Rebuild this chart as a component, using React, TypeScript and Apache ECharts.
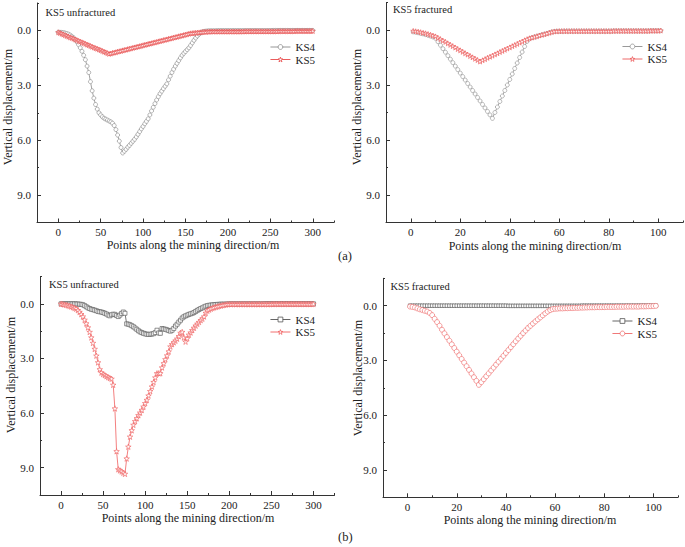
import React, { useEffect, useRef } from "react";
import * as echarts from "echarts";

// ---------- data ----------
// x positions: left panels every 2 m from 0 to 300, right panels every 1 m from 1 to 101
const xLeftStart = 0, xLeftStep = 2, xLeftCount = 151;
const xRightStart = 1, xRightStep = 1, xRightCount = 101;

const xTicksLeft = [0, 50, 100, 150, 200, 250, 300];
const xTicksRight = [0, 20, 40, 60, 80, 100];
const yTicks = [0, 3, 6, 9];

const panelTitles = ["KS5 unfractured", "KS5 fractured", "KS5 unfractured", "KS5 fractured"];
const seriesNames = ["KS4", "KS5"];
const subLabels = ["(a)", "(b)"];
const xTitle = "Points along the mining direction/m";
const yTitle = "Vertical displacement/m";

// (a) KS5 unfractured
const aUnfracKS4 = [
  0.10,0.10,0.11,0.12,0.14,0.17,0.20,0.25,0.32,0.40,0.50,0.62,0.78,0.95,1.14,1.36,
  1.60,1.95,2.30,2.80,3.30,3.70,4.05,4.30,4.50,4.62,4.72,4.80,4.85,4.90,4.95,5.00,5.07,5.20,5.42,5.72,6.05,6.40,6.70,
  6.60,6.50,6.38,6.28,6.17,6.06,5.95,5.82,5.68,5.53,5.38,5.25,5.10,4.97,4.83,4.62,4.40,4.20,4.00,3.80,3.62,3.46,
  3.32,3.18,3.05,2.92,2.70,2.50,2.30,2.12,1.95,1.80,1.65,1.50,1.36,1.25,1.15,1.05,0.95,0.82,0.68,0.54,0.41,0.30,
  0.20,0.13,0.08,0.05,0.04,0.03,0.02,0.02,
  0.02,0.02,0.02,0.01,0.01,0.01,0.01,0.01,0.01,0.01,
  0.01,0.01,0.01,0.01,0.01,0.01,0.01,0.01,0.01,0.01,0.01,0.01,0.01,0.01,0.01,0.01,0.01,0.01,0.01,0.01,0.01,0.01,0.01,0.01,0.01,
  0.00,0.00,0.00,0.00,0.00,0.00,0.00,0.00,0.00,0.00,0.00,0.00,0.00,0.00,0.00,0.00,0.00,0.00,0.00,0.00,0.00,0.00,0.00,0.00,0.00,
];
const aUnfracKS5 = [
  0.10,0.14,0.18,0.22,0.26,0.30,0.34,0.38,0.41,0.45,0.49,0.53,0.57,0.61,0.65,0.69,0.73,0.77,0.81,0.85,0.89,0.93,0.97,1.00,1.04,1.08,1.12,1.16,1.20,1.24,1.28,
  1.26,1.23,1.21,1.19,1.16,1.14,1.12,1.09,1.07,1.05,1.02,1.00,0.98,0.95,0.93,0.91,0.88,0.86,0.84,0.81,0.79,0.77,0.74,0.72,0.70,
  0.67,0.65,0.63,0.60,0.58,0.56,0.53,0.51,0.49,0.46,0.44,0.42,0.39,0.37,0.35,0.32,0.30,0.28,0.25,0.23,0.21,0.18,0.16,0.15,
  0.14,0.13,0.12,0.11,0.10,0.09,0.08,0.08,0.07,0.07,
  0.06,0.06,0.06,0.06,0.06,0.06,0.06,0.06,0.06,0.06,0.06,0.06,0.06,0.06,0.06,0.06,0.06,0.06,0.06,0.06,
  0.05,0.05,0.05,0.05,0.05,0.05,0.05,0.05,0.05,0.05,0.05,0.05,0.05,0.05,0.05,0.05,0.05,0.05,0.05,0.05,
  0.04,0.04,0.04,0.04,0.04,0.04,0.04,0.04,0.04,0.04,
  0.03,0.03,0.03,0.03,0.03,0.03,0.03,0.03,0.03,0.03,0.03,
];
// (a) KS5 fractured
const aFracKS4 = [
  0.10,0.12,0.15,0.18,0.21,0.25,0.29,0.33,0.38,0.45,
  0.64,0.83,1.02,1.21,1.40,1.59,1.78,1.97,2.16,2.35,2.54,2.73,2.92,3.11,3.30,3.49,3.68,3.87,4.06,4.25,4.44,4.63,4.82,
  4.50,4.20,3.90,3.60,3.30,3.00,2.70,2.40,2.10,1.80,1.50,1.20,0.90,0.62,0.48,0.42,0.38,0.34,0.30,0.26,0.23,0.19,0.15,0.11,0.08,
  0.07,0.07,0.07,
  0.06,0.06,0.06,0.06,0.06,0.06,0.06,0.06,0.06,0.06,0.06,0.06,0.06,0.06,0.06,0.06,0.06,0.06,0.06,0.06,
  0.05,0.05,0.05,0.05,0.05,0.05,0.05,0.05,0.05,0.05,0.05,0.05,0.05,0.05,0.05,
  0.04,0.04,0.04,0.04,0.04,
];
const aFracKS5 = [
  0.05,0.07,0.09,0.12,0.15,0.18,0.22,0.26,0.30,0.35,
  0.43,0.50,0.58,0.65,0.73,0.81,0.88,0.96,1.04,1.11,1.19,1.27,1.34,1.42,1.49,1.57,1.64,1.72,
  1.65,1.59,1.52,1.46,1.40,1.33,1.27,1.20,1.14,1.08,1.01,0.95,0.88,0.82,0.76,0.69,0.63,0.56,0.50,0.45,0.41,0.38,0.34,0.30,0.26,0.23,0.19,0.15,0.11,0.08,
  0.07,
  0.06,0.06,0.06,0.06,0.06,0.06,0.06,0.06,0.06,0.06,0.06,0.06,0.06,0.06,0.06,0.06,0.06,0.06,0.06,0.06,0.06,0.06,
  0.05,0.05,0.05,0.05,0.05,0.05,0.05,0.05,0.05,0.05,0.05,0.05,0.05,0.05,0.05,
  0.04,0.04,0.04,0.04,0.03,
];
// (b) KS5 unfractured
const bUnfracKS4 = [
  0.00,0.00,0.00,0.00,0.00,0.00,0.00,0.00,0.00,
  0.01,0.01,0.02,0.03,0.05,0.10,0.16,0.22,0.26,0.30,0.32,0.35,0.38,0.42,0.44,0.45,0.48,0.52,0.56,0.62,0.66,0.60,0.57,0.58,0.64,0.70,0.62,0.53,0.45,0.52,
  1.10,1.12,1.15,1.20,1.26,1.33,1.40,1.48,1.54,1.58,1.62,1.65,1.67,1.68,1.67,1.66,1.64,1.58,1.45,1.60,1.62,1.36,1.38,1.40,1.43,1.47,1.50,
  1.45,1.35,1.22,1.12,1.00,0.90,0.78,0.71,0.66,0.62,0.58,0.55,0.52,0.48,0.42,0.36,0.31,0.26,0.22,0.17,0.13,0.10,0.08,0.07,0.06,
  0.05,0.04,0.03,0.03,0.02,0.02,0.02,0.02,0.01,0.01,
  0.01,0.01,0.01,0.01,0.01,0.01,0.01,0.01,0.01,0.01,0.01,0.01,0.01,0.01,0.01,0.01,0.01,0.01,0.01,0.01,
  0.00,0.00,0.00,0.00,0.00,0.00,0.00,0.00,0.00,0.00,0.00,0.00,0.00,0.00,0.00,0.00,0.00,0.00,0.00,0.00,0.00,0.00,0.00,0.00,0.00,0.00,0.00,0.00,0.00,0.00,
];
const bUnfracKS5 = [
  0.00,0.02,0.04,0.06,0.09,0.12,0.15,0.19,0.23,0.27,
  0.35,0.45,0.57,0.70,0.88,1.08,1.30,1.55,1.85,2.15,2.48,2.85,3.22,3.60,3.78,3.86,3.92,3.98,4.03,4.08,4.12,
  4.45,5.75,8.10,9.09,9.15,9.21,9.28,9.34,8.50,7.85,7.30,6.95,6.65,6.45,6.29,6.12,5.98,5.83,5.65,5.46,5.28,5.04,4.80,4.55,4.30,4.05,
  3.82,3.82,3.82,3.50,3.27,3.05,2.84,2.62,2.35,2.22,2.12,2.03,1.92,1.78,1.60,1.55,1.85,2.08,1.90,1.70,1.58,1.45,1.32,1.20,
  1.10,1.00,0.90,0.82,0.70,0.50,0.38,0.32,0.27,0.23,0.20,0.17,0.15,0.12,0.10,0.08,0.06,0.04,0.03,0.02,
  0.02,0.02,0.02,0.02,0.02,0.02,0.02,0.02,0.02,0.02,0.02,0.02,0.02,0.02,0.02,0.02,0.02,0.02,0.02,0.02,0.02,0.02,0.02,0.02,0.02,
  0.01,0.01,0.01,0.01,0.01,0.01,0.01,0.01,0.01,0.01,0.01,0.01,0.01,0.01,0.01,0.01,0.01,0.01,0.01,0.01,0.01,0.01,0.01,0.01,0.01,
];
// (b) KS5 fractured
const bFracKS4 = [
  0.00,0.00,0.00,0.00,0.00,0.00,0.00,0.00,0.00,0.00,0.00,0.00,0.00,0.00,0.00,0.00,0.00,0.00,0.00,0.00,
  0.00,0.00,0.00,0.00,0.00,0.00,0.00,0.00,0.00,0.00,0.00,0.00,0.00,0.00,0.00,0.00,0.00,0.00,0.00,0.00,
  0.01,0.01,0.01,0.01,0.01,0.01,0.01,0.01,0.01,0.01,0.01,0.01,0.01,0.01,0.01,0.01,0.01,0.01,0.01,0.01,
  0.01,0.01,0.01,0.01,0.01,0.01,0.01,0.01,0.01,0.01,0.00,0.00,0.00,0.00,0.00,0.00,0.00,0.00,0.00,0.00,
  0.00,0.00,0.00,0.00,0.00,0.00,0.00,0.00,0.00,0.00,0.00,0.00,0.00,0.00,0.00,0.00,0.00,0.00,0.00,0.00,0.00,
];
const bFracKS5 = [
  0.05,0.07,0.10,0.15,0.20,0.24,0.28,0.32,0.40,0.52,
  0.72,0.90,1.10,1.32,1.52,1.72,1.92,2.12,2.32,2.52,2.72,2.92,3.12,3.32,3.52,3.72,3.92,4.12,4.34,
  4.19,4.03,3.87,3.71,3.55,3.39,3.23,3.07,2.91,2.75,2.59,2.43,2.27,2.11,1.95,1.80,1.65,1.50,1.36,1.22,1.10,0.98,0.86,0.75,0.64,0.53,0.42,0.32,0.24,0.19,0.17,
  0.16,0.15,0.15,0.14,0.14,0.13,0.13,0.12,0.12,0.11,0.11,0.10,0.10,0.09,
  0.09,0.09,0.08,0.08,0.08,0.08,0.07,0.07,0.07,0.07,0.06,0.06,0.06,0.06,0.05,0.05,0.05,0.05,0.05,0.05,0.04,0.04,0.04,0.03,0.03,0.02,0.01,
];

// ---------- rendering ----------
const FONT = "'Liberation Serif', 'Times New Roman', serif";
const STAR = "path://M5,0L6.2,3.6L10,3.6L6.9,5.9L8.1,9.5L5,7.3L1.9,9.5L3.1,5.9L0,3.6L3.8,3.6Z";

function xs(start: number, step: number, count: number) {
  return Array.from({ length: count }, (_, i) => start + i * step);
}
function pairs(x: number[], y: number[]) {
  return y.map((v, i) => [x[i], v]);
}

export default function App() {
  const ref = useRef<HTMLDivElement>(null);
  useEffect(() => {
    if (!ref.current) return;
    const chart = echarts.init(ref.current, undefined, { renderer: "svg" });
    const xL = xs(xLeftStart, xLeftStep, xLeftCount);
    const xR = xs(xRightStart, xRightStep, xRightCount);

    const grids = [
      { left: 37, top: 3, width: 297, height: 219.5 },
      { left: 386, top: 2.5, width: 297, height: 220 },
      { left: 40, top: 276.5, width: 294.5, height: 218.5 },
      { left: 383, top: 278.3, width: 295, height: 219 },
    ];
    const xCfg = [
      { min: -25, max: 325, minor: 25, ticks: xTicksLeft },
      { min: -10, max: 110, minor: 10, ticks: xTicksRight },
      { min: -25, max: 325, minor: 25, ticks: xTicksLeft },
      { min: -10, max: 110, minor: 10, ticks: xTicksRight },
    ];
    const axisColor = "#333";
    const xAxis: any[] = [];
    const yAxis: any[] = [];
    grids.forEach((_, i) => {
      const c = xCfg[i];
      xAxis.push({
        gridIndex: i, type: "value", position: "bottom", min: c.min, max: c.max,
        axisLine: { show: true, onZero: false, lineStyle: { color: axisColor, width: 1 } },
        axisTick: { show: true, inside: true, length: 4, customValues: c.ticks, lineStyle: { color: axisColor } },
        axisLabel: { customValues: c.ticks, fontSize: 11, color: "#222", fontFamily: FONT, margin: 4 },
        splitLine: { show: false },
      });
      xAxis.push({
        gridIndex: i, type: "value", position: "bottom", min: c.min, max: c.max, interval: c.minor,
        axisLine: { show: false, onZero: false },
        axisTick: { show: true, inside: true, length: 2, lineStyle: { color: axisColor } },
        axisLabel: { show: false }, splitLine: { show: false },
      });
      yAxis.push({
        gridIndex: i, type: "value", position: "left", inverse: true, min: -1.5, max: 10.5,
        axisLine: { show: true, onZero: false, lineStyle: { color: axisColor, width: 1 } },
        axisTick: { show: true, inside: true, length: 4, customValues: yTicks, lineStyle: { color: axisColor } },
        axisLabel: {
          customValues: yTicks, fontSize: 11, color: "#222", fontFamily: FONT, margin: 6,
          formatter: (v: number) => Number(v).toFixed(1),
        },
        splitLine: { show: false },
      });
      yAxis.push({
        gridIndex: i, type: "value", position: "left", inverse: true, min: -1.5, max: 10.5, interval: 1.5,
        axisLine: { show: false, onZero: false },
        axisTick: { show: true, inside: true, length: 2, lineStyle: { color: axisColor } },
        axisLabel: { show: false }, splitLine: { show: false },
      });
    });

    const panelData = [
      [pairs(xL, aUnfracKS4), pairs(xL, aUnfracKS5)],
      [pairs(xR, aFracKS4), pairs(xR, aFracKS5)],
      [pairs(xL, bUnfracKS4), pairs(xL, bUnfracKS5)],
      [pairs(xR, bFracKS4), pairs(xR, bFracKS5)],
    ];
    const styles = [
      [
        { symbol: "circle", size: 4, color: "#8a8a8a", legendSize: 5 },
        { symbol: STAR, size: 5, color: "#e84a4a", legendSize: 5.5 },
      ],
      [
        { symbol: "circle", size: 4, color: "#8f8f8f", legendSize: 5 },
        { symbol: STAR, size: 5, color: "#ec5a5a", legendSize: 5.5 },
      ],
      [
        { symbol: "rect", size: 4, color: "#555555", legendSize: 5 },
        { symbol: STAR, size: 5.5, color: "#f06060", legendSize: 5.5 },
      ],
      [
        { symbol: "rect", size: 3.5, color: "#555555", legendSize: 5 },
        { symbol: "circle", size: 5, color: "#ee6a6a", legendSize: 5.5 },
      ],
    ];
    const series: any[] = [];
    const legends: any[] = [];
    const legendPos = [
      { left: 270, top: 41.5 },
      { left: 622, top: 41 },
      { left: 270, top: 314 },
      { left: 612, top: 315.5 },
    ];
    panelData.forEach((pd, i) => {
      const items: any[] = [];
      pd.forEach((d, k) => {
        const st = styles[i][k];
        const name = seriesNames[k] + "_" + i;
        items.push({
          name,
          itemStyle: { color: "#fff", borderColor: st.color, borderWidth: 0.8 },
          lineStyle: { color: st.color, width: 0.9 },
        });
        series.push({
          type: "line", name, xAxisIndex: 2 * i, yAxisIndex: 2 * i, data: d,
          symbol: st.symbol, symbolSize: st.size, showSymbol: true,
          itemStyle: { color: "#fff", borderColor: st.color, borderWidth: 0.65 },
          lineStyle: { color: st.color, width: 0.8 },
          z: 2 + k,
        });
      });
      legends.push({
        ...legendPos[i], orient: "vertical", data: items, itemWidth: 20, itemHeight: 6, itemGap: 1.5,
        padding: 0,
        formatter: (n: string) => n.split("_")[0],
        textStyle: { fontFamily: FONT, fontSize: 11, color: "#222" },
        selectedMode: false,
      });
    });

    const txt = (text: string, x: number, y: number, size: number, align: string, rot = 0) => ({
      type: "text", x, y, rotation: rot,
      style: { text, fontFamily: FONT, fontSize: size, fill: "#222", align, verticalAlign: "middle" },
    });
    const graphic: any[] = [
      txt(panelTitles[0], 45.5, 12, 10.5, "left"),
      txt(panelTitles[1], 393, 9.5, 10.5, "left"),
      txt(panelTitles[2], 49, 284, 10.5, "left"),
      txt(panelTitles[3], 390.5, 286, 10.5, "left"),
      txt(xTitle, 193, 245, 12, "center"),
      txt(xTitle, 535, 246, 12, "center"),
      txt(xTitle, 188, 518, 12, "center"),
      txt(xTitle, 530, 520, 12, "center"),
      txt(yTitle, 8, 107, 12, "center", Math.PI / 2),
      txt(yTitle, 357, 107, 12, "center", Math.PI / 2),
      txt(yTitle, 11, 375, 12, "center", Math.PI / 2),
      txt(yTitle, 357.5, 378, 12, "center", Math.PI / 2),
      txt(subLabels[0], 338, 256, 12.5, "left"),
      txt(subLabels[1], 338, 537, 12.5, "left"),
    ];

    chart.setOption({
      animation: false,
      backgroundColor: "#fff",
      textStyle: { fontFamily: FONT },
      grid: grids,
      xAxis, yAxis, series, legend: legends, graphic,
    });
    return () => chart.dispose();
  }, []);
  return (
    <div
      ref={ref}
      style={{ position: "absolute", left: 0, top: 0, width: 685, height: 547, background: "#fff" }}
    />
  );
}
